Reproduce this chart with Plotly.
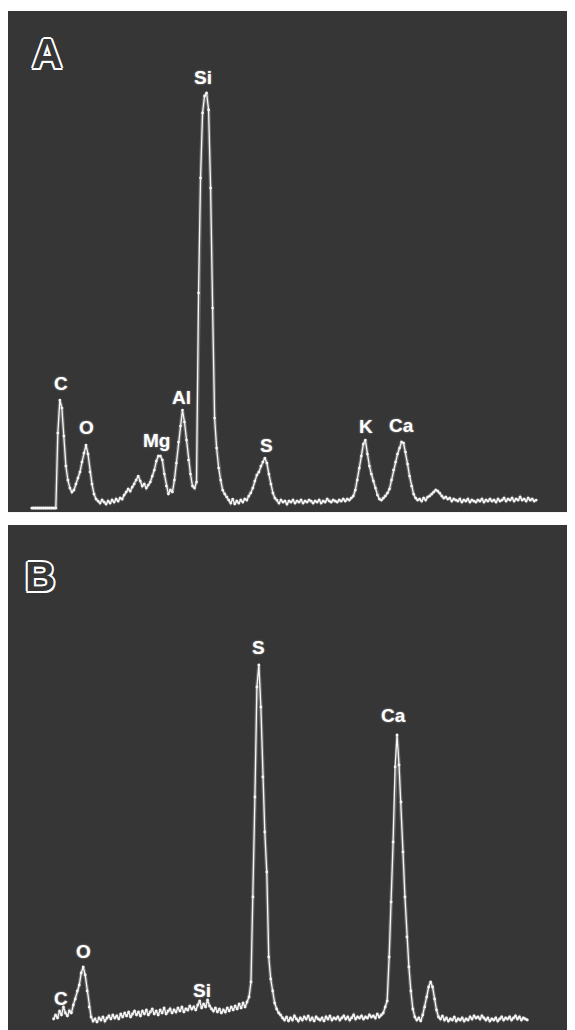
import plotly.graph_objects as go

# ---------------- data ----------------
# Panel A: EDS spectrum, 0.02 keV channels starting at 0 keV (arbitrary counts)
counts_a = [
    0, 0, 0, 0, 0, 0, 0, 0, 0, 0, 0, 0, 0, 75, 108, 100, 72, 42, 28, 20,
    16, 18, 24, 30, 36, 46, 55, 63, 54, 36, 24, 14, 9, 7, 5, 8, 6, 4, 7, 5,
    8, 6, 9, 7, 10, 9, 13, 16, 19, 17, 21, 24, 28, 32, 27, 22, 24, 20, 23, 26,
    32, 38, 47, 52, 52, 48, 34, 22, 14, 18, 16, 28, 45, 66, 82, 98, 86, 68, 48, 34,
    22, 20, 26, 215, 330, 395, 412, 415, 398, 320, 200, 90, 60, 40, 28, 18, 14, 11, 8, 5,
    9, 4, 7, 5, 8, 6, 9, 8, 12, 15, 20, 27, 33, 36, 42, 46, 50, 45, 34, 24,
    15, 10, 8, 5, 8, 6, 7, 4, 7, 6, 8, 5, 7, 6, 8, 5, 7, 6, 8, 7,
    5, 7, 6, 8, 5, 7, 6, 9, 7, 6, 8, 7, 6, 8, 7, 9, 7, 9, 8, 10,
    12, 18, 28, 40, 52, 64, 68, 54, 42, 34, 27, 20, 13, 9, 8, 10, 12, 15, 19, 28,
    38, 46, 54, 60, 66, 65, 56, 44, 32, 22, 14, 10, 8, 9, 7, 10, 8, 11, 12, 14,
    16, 18, 17, 15, 12, 10, 11, 9, 10, 7, 9, 8, 7, 9, 6, 8, 7, 9, 6, 8,
    7, 6, 8, 7, 9, 6, 8, 7, 9, 7, 8, 6, 9, 7, 8, 10, 7, 9, 8, 10,
    7, 9, 8, 11, 8, 9, 7, 10, 8, 9, 7, 8,
]
energy_start_a = 0.0
channel_kev = 0.02

# Panel B: EDS spectrum, 0.02 keV channels starting at 0.22 keV
counts_b = [
    8, 12, 9, 16, 12, 20, 14, 11, 16, 14, 22, 28, 36, 42, 54, 60, 52, 36, 20,
    10, 6, 8, 5, 9, 7, 10, 6, 9, 11, 8, 12, 9, 11, 8, 13, 10, 14, 11, 15, 10,
    13, 16, 12, 15, 11, 16, 13, 17, 12, 15, 18, 13, 16, 12, 17, 14, 19, 13, 16, 18,
    14, 17, 15, 19, 16, 20, 15, 18, 17, 21, 18, 20, 17, 22, 26, 19, 23, 20, 27, 21,
    18, 16, 19, 15, 18, 14, 17, 15, 19, 16, 20, 17, 21, 18, 23, 19, 24, 20, 25, 30,
    45, 130, 230, 340, 362, 320, 250, 195, 155, 70, 48, 36, 24, 18, 14, 12, 9, 7, 10, 6,
    9, 7, 11, 8, 6, 9, 7, 10, 8, 11, 7, 9, 6, 10, 8, 7, 9, 6, 10, 8,
    11, 7, 9, 8, 10, 7, 9, 11, 8, 10, 7, 9, 12, 8, 10, 9, 11, 8, 10, 9,
    12, 10, 11, 9, 13, 10, 12, 14, 20, 26, 70, 125, 185, 260, 292, 262, 225, 175, 130, 90,
    60, 36, 18, 10, 7, 9, 6, 12, 20, 30, 40, 45, 40, 28, 17, 10, 8, 11, 7, 9,
    6, 8, 7, 10, 6, 8, 7, 9, 6, 8, 7, 10, 8, 11, 9, 10, 8, 11, 9, 7,
    9, 6, 8, 7, 9, 6, 8, 10, 7, 9, 8, 10, 7, 9, 11, 8, 10, 7, 9, 8, 7,
]
energy_start_b = 0.22

energy_a = [round(energy_start_a + channel_kev * k, 2) for k in range(len(counts_a))]
energy_b = [round(energy_start_b + channel_kev * k, 2) for k in range(len(counts_b))]

# element labels (text, energy keV, label height in counts)
labels_a_text = ["C", "O", "Mg", "Al", "Si", "S", "K", "Ca"]
labels_a_x = [0.287, 0.55, 1.237, 1.493, 1.70, 2.339, 3.326, 3.68]
labels_a_y = [125, 81, 68, 111, 431, 63, 82, 83]

labels_b_text = ["C", "O", "Si", "S", "Ca"]
labels_b_x = [0.29, 0.523, 1.72, 2.296, 3.669]
labels_b_y = [29, 75, 37, 379, 311]

panel_letters = ["A", "B"]

# ---------------- styling ----------------
BG = "#363636"
TRACE = "#f6f6f6"
GLOW = "rgba(255,255,255,0.25)"

fig = go.Figure()

for e, c, xa, ya in [(energy_a, counts_a, "x", "y"), (energy_b, counts_b, "x2", "y2")]:
    fig.add_trace(go.Scatter(x=e, y=c, xaxis=xa, yaxis=ya, mode="lines",
                             line=dict(color=GLOW, width=3.6), hoverinfo="skip",
                             showlegend=False))
    fig.add_trace(go.Scatter(x=e, y=c, xaxis=xa, yaxis=ya, mode="lines+markers",
                             line=dict(color=TRACE, width=1.3),
                             marker=dict(color=TRACE, size=2.8),
                             showlegend=False))

# panel A starts with a flat zero segment before the first channel
fig.add_trace(go.Scatter(x=[energy_a[0], energy_a[12]], y=[counts_a[0], counts_a[12]],
                         xaxis="x", yaxis="y", mode="lines",
                         line=dict(color=TRACE, width=2.4), showlegend=False))

label_font = dict(family="Liberation Sans, Arial, sans-serif", size=19, color="#ffffff",
                  weight="bold", shadow="0 0 2px rgba(255,255,255,0.55)")

annotations = []
for t, x, y in zip(labels_a_text, labels_a_x, labels_a_y):
    annotations.append(dict(text=t, x=x, y=y, xref="x", yref="y", showarrow=False,
                            font=label_font, xanchor="center", yanchor="middle"))
for t, x, y in zip(labels_b_text, labels_b_x, labels_b_y):
    annotations.append(dict(text=t, x=x, y=y, xref="x2", yref="y2", showarrow=False,
                            font=label_font, xanchor="center", yanchor="middle"))

outline = ", ".join(f"{dx}px {dy}px 0 #ffffff" for dx, dy in
                    [(2, 0), (-2, 0), (0, 2), (0, -2), (1.5, 1.5), (-1.5, 1.5),
                     (1.5, -1.5), (-1.5, -1.5)])
letter_font = dict(family="Liberation Sans, Arial, sans-serif", size=42, color=BG,
                   weight="bold", shadow=outline)
for t, px, py in zip(panel_letters, [0.0688, 0.0564], [0.958, 0.4455]):
    annotations.append(dict(text=t, x=px, y=py, xref="paper", yref="paper", showarrow=False,
                            font=letter_font, xanchor="center", yanchor="middle"))

ax_common = dict(visible=False, showgrid=False, zeroline=False, fixedrange=True)
# the page body adds an 8px offset, so the figure is sized to end at the window edge
fig.update_layout(
    width=567, height=1022,
    margin=dict(l=0, r=0, t=3, b=0),
    paper_bgcolor="#ffffff",
    plot_bgcolor=BG,
    showlegend=False,
    xaxis=dict(domain=[0, 1], range=[-0.236, 5.406], anchor="y", **ax_common),
    yaxis=dict(domain=[0.5083, 1.0], range=[-4, 497], anchor="x", **ax_common),
    xaxis2=dict(domain=[0, 1], range=[-0.242, 5.503], anchor="y2", **ax_common),
    yaxis2=dict(domain=[0.0, 0.4956], range=[-3, 502], anchor="x2", **ax_common),
    annotations=annotations,
)

fig.write_html("out.html")
